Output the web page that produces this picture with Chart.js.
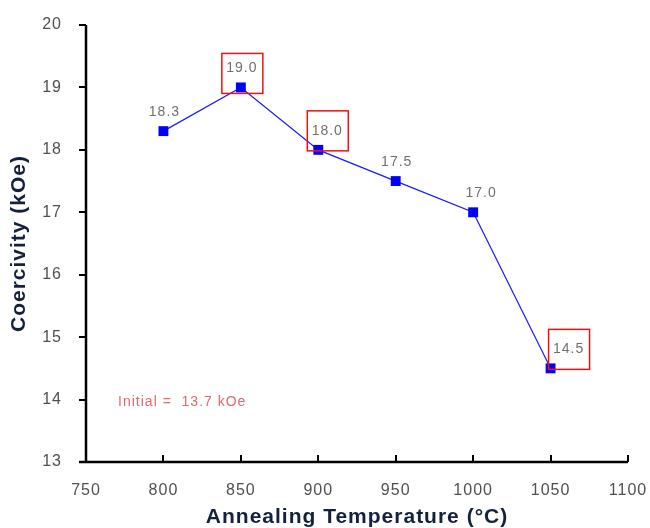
<!DOCTYPE html>
<html>
<head>
<meta charset="utf-8">
<script src="https://cdn.jsdelivr.net/npm/chart.js@4/dist/chart.umd.min.js"></script>
<style>
  html, body { margin: 0; padding: 0; background: #ffffff; }
  #wrap { width: 650px; height: 528px; position: relative; }
</style>
</head>
<body>
<div id="wrap"><canvas id="c" width="650" height="528"></canvas></div>
<script>
// ---- data ----
const temperatures = [800, 850, 900, 950, 1000, 1050];
const coercivity = [18.3, 19.0, 18.0, 17.5, 17.0, 14.5];
const pointLabels = ['18.3', '19.0', '18.0', '17.5', '17.0', '14.5'];
const boxedLabels = [false, true, true, false, false, true];
const xTickValues = [750, 800, 850, 900, 950, 1000, 1050, 1100];
const yTickValues = [13, 14, 15, 16, 17, 18, 19, 20];
const initialNote = 'Initial =  13.7 kOe';
const xTitle = 'Annealing Temperature (°C)';
const yTitle = 'Coercivity (kOe)';

// ---- style ----
const FONT = '"Liberation Sans", Arial, sans-serif';
const labelDx = [0, 0, 8, 0, 7, 17];
const boxDy = [0, 5, 0, 0, 0, 0];

const decor = {
  id: 'decor',
  beforeDraw(chart) {
    chart.ctx.letterSpacing = '1px';
  },
  afterDraw(chart) {
    const ctx = chart.ctx;
    const xs = chart.scales.x, ys = chart.scales.y;
    const ca = chart.chartArea;
    ctx.save();
    ctx.letterSpacing = '1px';
    // axes
    ctx.strokeStyle = '#000';
    ctx.lineWidth = 2.5;
    ctx.lineCap = 'butt';
    ctx.beginPath();
    ctx.moveTo(ca.left, ca.top);
    ctx.lineTo(ca.left, ca.bottom);
    ctx.moveTo(ca.left - 7, ca.bottom);
    ctx.lineTo(ca.right, ca.bottom);
    ctx.stroke();
    // y ticks (outward, left)
    ctx.lineWidth = 2;
    ctx.beginPath();
    yTickValues.forEach(v => {
      const y = Math.round(ys.getPixelForValue(v));
      ctx.moveTo(ca.left - 7, y);
      ctx.lineTo(ca.left, y);
    });
    // x ticks (inward, up)
    xTickValues.forEach(v => {
      if (v === xTickValues[0]) return;
      const x = Math.round(xs.getPixelForValue(v));
      ctx.moveTo(x, ca.bottom);
      ctx.lineTo(x, ca.bottom - 7);
    });
    ctx.stroke();

    // data labels + boxes
    ctx.font = '14px ' + FONT;
    ctx.fillStyle = '#707070';
    ctx.textAlign = 'center';
    ctx.textBaseline = 'middle';
    temperatures.forEach((t, i) => {
      const px = xs.getPixelForValue(t) + labelDx[i];
      const py = ys.getPixelForValue(coercivity[i]) - 19;
      ctx.fillText(pointLabels[i], px + 1, py);
      if (boxedLabels[i]) {
        ctx.strokeStyle = '#ee1111';
        ctx.lineWidth = 1.5;
        ctx.strokeRect(px - 19, py - 20 + boxDy[i], 41, 40);
      }
    });

    // note
    ctx.font = '14px ' + FONT;
    ctx.fillStyle = '#e06a6a';
    ctx.textAlign = 'left';
    ctx.fillText(initialNote, xs.getPixelForValue(770.7), ys.getPixelForValue(13.96));
    ctx.restore();
  }
};

new Chart(document.getElementById('c'), {
  type: 'scatter',
  data: {
    datasets: [{
      data: temperatures.map((t, i) => ({ x: t, y: coercivity[i] })),
      showLine: true,
      borderColor: '#1a1aff',
      borderWidth: 1.2,
      backgroundColor: '#0000ff',
      pointStyle: 'rect',
      pointRadius: 7,
      pointBorderWidth: 0,
      pointHoverRadius: 7,
      tension: 0
    }]
  },
  options: {
    responsive: false,
    animation: false,
    devicePixelRatio: 1,
    layout: { padding: { top: 25, right: 22, left: 0, bottom: 0 } },
    plugins: { legend: { display: false }, tooltip: { enabled: false } },
    scales: {
      x: {
        type: 'linear',
        min: 750, max: 1100,
        afterBuildTicks: s => { s.ticks = xTickValues.map(v => ({ value: v })); },
        afterFit: s => { s.height = 66; s.paddingLeft = 0; s.paddingRight = 0; },
        grid: { display: false, drawTicks: false },
        border: { display: false },
        ticks: {
          padding: 19,
          color: '#505050',
          font: { family: FONT, size: 16 },
          maxRotation: 0,
          autoSkip: false,
          callback: v => String(v)
        },
        title: {
          display: true,
          text: xTitle,
          color: '#14213d',
          font: { family: FONT, size: 21, weight: 'bold', lineHeight: 1 },
          padding: { top: 0, bottom: 0 }
        }
      },
      y: {
        min: 13, max: 20,
        afterBuildTicks: s => { s.ticks = yTickValues.map(v => ({ value: v })); },
        afterFit: s => { s.width = 86; s.paddingTop = 0; s.paddingBottom = 0; },
        grid: { display: false, drawTicks: false },
        border: { display: false },
        ticks: {
          padding: 24,
          color: '#505050',
          font: { family: FONT, size: 16 },
          callback: v => String(v)
        },
        title: {
          display: true,
          text: yTitle,
          color: '#14213d',
          font: { family: FONT, size: 21, weight: 'bold', lineHeight: 1.2 },
          padding: { top: 7, bottom: 0 }
        }
      }
    }
  },
  plugins: [decor]
});
</script>
</body>
</html>
